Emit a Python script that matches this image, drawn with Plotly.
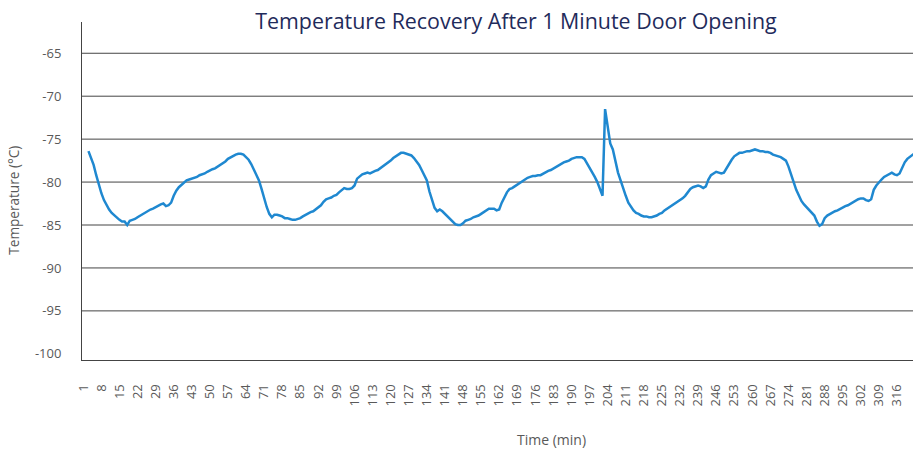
import plotly.graph_objects as go

# ---- data ----
time_min = list(range(1, 324))
temperature_c = [
    None, None,
    -76.4, -77.2, -78.0, -79.2, -80.3, -81.3, -82.1, -82.7, -83.2, -83.6,
    -83.9, -84.2, -84.4, -84.6, -84.6, -85.0, -84.5, -84.4, -84.3, -84.1,
    -83.9, -83.8, -83.6, -83.4, -83.2, -83.1, -82.9, -82.7, -82.6, -82.5,
    -82.8, -82.7, -82.4, -81.6, -81.0, -80.6, -80.3, -80.0, -79.8, -79.7,
    -79.6, -79.5, -79.4, -79.2, -79.1, -79.0, -78.8, -78.6, -78.5, -78.4,
    -78.2, -78.0, -77.9, -77.6, -77.3, -77.1, -76.9, -76.8, -76.7, -76.7,
    -76.8, -77.1, -77.4, -77.9, -78.6, -79.2, -79.8, -80.8, -81.9, -82.9,
    -83.7, -84.1, -83.8, -83.8, -83.9, -84.0, -84.2, -84.2, -84.3, -84.4,
    -84.4, -84.3, -84.2, -84.0, -83.8, -83.6, -83.5, -83.4, -83.2, -83.0,
    -82.7, -82.3, -82.0, -81.9, -81.8, -81.6, -81.5, -81.2, -80.9, -80.7,
    -80.8, -80.8, -80.7, -80.4, -79.6, -79.3, -79.1, -79.0, -78.9, -79.0,
    -78.8, -78.7, -78.6, -78.4, -78.2, -78.0, -77.8, -77.5, -77.2, -77.0,
    -76.8, -76.6, -76.6, -76.7, -76.8, -76.9, -77.2, -77.6, -78.0, -78.6,
    -79.2, -79.8, -81.1, -82.2, -83.0, -83.4, -83.2, -83.4, -83.7, -84.1,
    -84.4, -84.7, -84.9, -85.0, -85.0, -84.8, -84.5, -84.4, -84.3, -84.1,
    -84.0, -83.9, -83.7, -83.5, -83.3, -83.1, -83.1, -83.1, -83.3, -83.2,
    -82.4, -81.7, -81.2, -80.8, -80.7, -80.5, -80.3, -80.1, -79.8, -79.7,
    -79.5, -79.4, -79.3, -79.3, -79.2, -79.2, -79.0, -78.9, -78.7, -78.6,
    -78.4, -78.2, -78.1, -77.9, -77.7, -77.6, -77.5, -77.3, -77.2, -77.1,
    -77.1, -77.1, -77.3, -77.8, -78.3, -78.8, -79.4, -80.0, -80.7, -81.6,
    -71.5, -73.6, -75.5, -76.2, -77.5, -78.9, -79.8, -80.8, -81.6, -82.4,
    -82.9, -83.3, -83.6, -83.7, -83.9, -84.0, -84.0, -84.1, -84.1, -84.0,
    -83.9, -83.7, -83.6, -83.3, -83.1, -82.9, -82.7, -82.5, -82.4, -82.2,
    -81.9, -81.6, -81.2, -80.8, -80.6, -80.5, -80.4, -80.5, -80.7, -80.5,
    -79.7, -79.2, -79.0, -78.8, -78.9, -79.0, -78.9, -78.4, -77.8, -77.4,
    -77.0, -76.8, -76.6, -76.6, -76.5, -76.4, -76.4, -76.3, -76.2, -76.3,
    -76.4, -76.4, -76.5, -76.5, -76.6, -76.8, -76.9, -77.0, -77.1, -77.3,
    -77.5, -78.2, -79.0, -80.0, -80.9, -81.6, -82.2, -82.6, -82.9, -83.2,
    -83.5, -83.9, -84.6, -85.1, -84.9, -84.2, -83.9, -83.7, -83.5, -83.4,
    -83.3, -83.1, -83.0, -82.8, -82.7, -82.5, -82.3, -82.2, -82.0, -81.9,
    -81.9, -82.1, -82.2, -82.0, -80.9, -80.4, -80.0, -79.7, -79.4, -79.2,
    -79.0, -78.9, -79.1, -79.2, -79.0, -78.3, -77.7, -77.3, -77.1, -76.8,
    -76.6,
]
x_tick_vals = list(range(1, 324, 7))
x_tick_text = [str(v) for v in x_tick_vals]
y_tick_vals = [-100, -95, -90, -85, -80, -75, -70, -65]
y_tick_text = [str(v) for v in y_tick_vals]
grid_levels = [-95, -90, -85, -80, -75, -70, -65]

TITLE = "Temperature Recovery After 1 Minute Door Opening"
X_TITLE = "Time (min)"
Y_TITLE = "Temperature (°C)"

FONT = "Open Sans"
LABEL_COLOR = "#595959"
GRID_COLOR = "#444444"

fig = go.Figure()
fig.add_trace(go.Scatter(
    x=time_min, y=temperature_c, mode="lines",
    line=dict(color="#1F88D0", width=2.5),
    connectgaps=False, showlegend=False, hoverinfo="x+y",
))

for lvl in grid_levels:
    fig.add_shape(type="line", xref="paper", x0=0, x1=1, yref="y", y0=lvl, y1=lvl,
                  line=dict(color=GRID_COLOR, width=1), layer="below")

fig.update_layout(
    width=913, height=451,
    margin=dict(l=82, r=0, t=22, b=91, autoexpand=False),
    paper_bgcolor="white", plot_bgcolor="white",
    font=dict(family=FONT, color=LABEL_COLOR, size=13),
    title=dict(text=TITLE, x=516 / 913, xref="container", xanchor="center",
               y=1 - 22 / 451, yref="container", yanchor="middle",
               font=dict(family=FONT, size=21.4, color="#1F2B5B")),
    xaxis=dict(
        range=[0.5, 322.2], tickmode="array", tickvals=x_tick_vals, ticktext=x_tick_text,
        tickangle=-90, showgrid=False, zeroline=False,
        showline=True, linecolor=GRID_COLOR, linewidth=1,
        ticks="", ticklabelstandoff=18,
        tickfont=dict(family=FONT, size=13, color=LABEL_COLOR),
    ),
    yaxis=dict(
        range=[-100.72, -61.36], tickmode="array", tickvals=y_tick_vals, ticktext=y_tick_text,
        showgrid=False, zeroline=False,
        showline=True, linecolor=GRID_COLOR, linewidth=1,
        ticks="", ticklabelstandoff=17,
        tickfont=dict(family=FONT, size=13, color=LABEL_COLOR),
    ),
    annotations=[
        dict(text=Y_TITLE, textangle=-90, xref="paper", yref="paper",
             x=(14 - 82) / 831, y=(360.5 - 201) / 338.5, xanchor="center", yanchor="middle",
             showarrow=False, font=dict(family=FONT, size=13.6, color=LABEL_COLOR)),
        dict(text=X_TITLE, xref="paper", yref="paper",
             x=(551 - 82) / 831, y=(360.5 - 440) / 338.5, xanchor="center", yanchor="middle",
             showarrow=False, font=dict(family=FONT, size=14, color=LABEL_COLOR)),
    ],
)

fig.write_html(
    "out.html",
    config={"displayModeBar": False},
    post_script="document.body.style.margin='0';document.body.style.overflow='hidden';",
)
